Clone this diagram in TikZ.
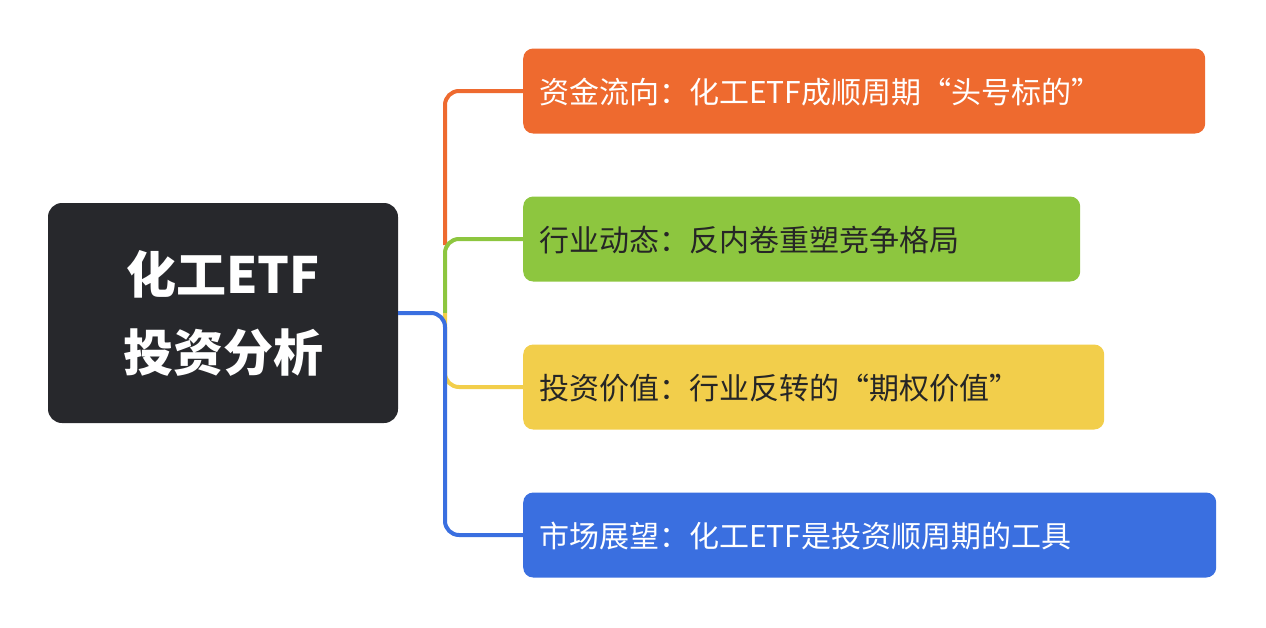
\documentclass[tikz,border=0pt]{standalone}
\usepackage{fontspec}
\setmainfont{Noto Sans CJK SC}
\begin{document}
\begin{tikzpicture}[x=1pt,y=-1pt,
  br/.style={rounded corners=10pt,minimum height=85pt,anchor=west,inner sep=0pt,text depth=0pt,font=\fontsize{30}{36}\selectfont},
  ln/.style={line width=4pt,rounded corners=14pt}]
\definecolor{cor}{HTML}{EE6A2F}\definecolor{cgr}{HTML}{8DC63F}
\definecolor{cye}{HTML}{F2CE4B}\definecolor{cbl}{HTML}{3A6FE0}
\definecolor{croot}{HTML}{27282C}
\path[use as bounding box] (0,0) rectangle (1266,627);
\node[fill=croot,rounded corners=14pt,minimum width=350pt,minimum height=220pt,text=white,align=center,font=\fontsize{50}{78}\selectfont\bfseries] (root) at (223,313) {化工ETF\\投资分析};
\node[br,fill=cor,text=white,minimum width=682pt,text width=650pt] (b1) at (523,91) {资金流向：化工ETF成顺周期“头号标的”};
\node[br,fill=cgr,text=black!85,minimum width=557pt,text width=525pt] (b2) at (523,239) {行业动态：反内卷重塑竞争格局};
\node[br,fill=cye,text=black!85,minimum width=581pt,text width=549pt] (b3) at (523,387) {投资价值：行业反转的“期权价值”};
\node[br,fill=cbl,text=white,minimum width=693pt,text width=661pt] (b4) at (523,535) {市场展望：化工ETF是投资顺周期的工具};
\coordinate (j) at (445,313);
\draw[ln,cor] (445,245) |- (b1.west);
\draw[ln,cgr] (j) |- (b2.west);
\draw[ln,cye] (j) |- (b3.west);
\draw[ln,cbl] (root.east) -- (j) |- (b4.west);
\end{tikzpicture}
\end{document}
